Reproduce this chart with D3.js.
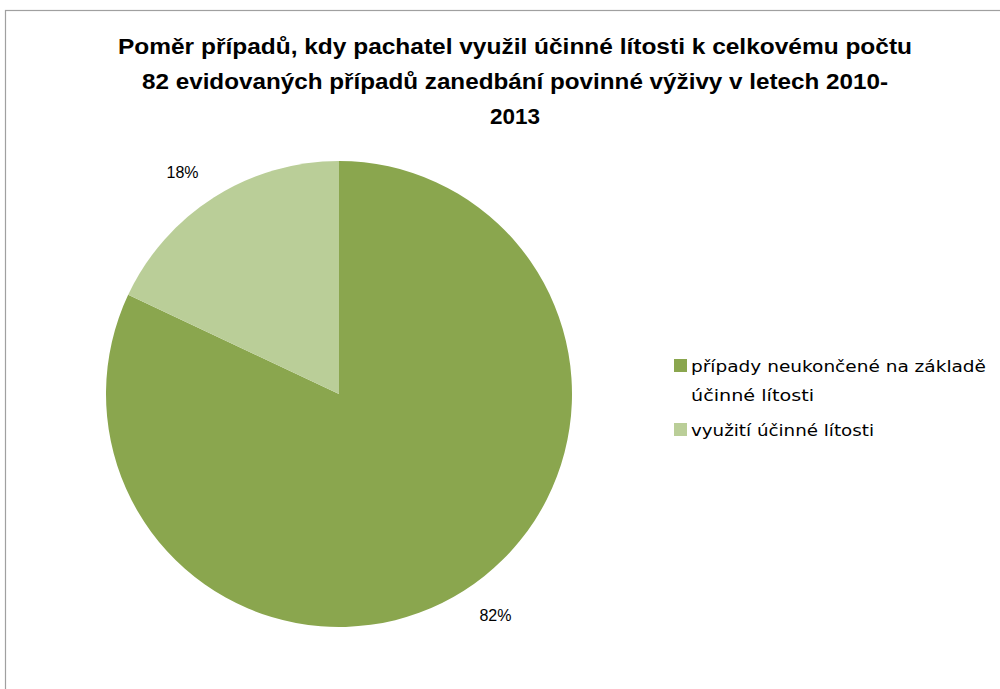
<!DOCTYPE html>
<html><head><meta charset="utf-8">
<script src="https://cdn.jsdelivr.net/npm/d3@7"></script>
<style>body{margin:0;background:#fff;}svg{display:block;}</style>
</head><body>
<svg id="c" width="1000" height="689"></svg>
<script>
const categories = ["případy neukončené na základě účinné lítosti", "využití účinné lítosti"];
const values = [82, 18];
const labels = ["82%", "18%"];
const legendLines = [["případy neukončené na základě", "účinné lítosti"], ["využití účinné lítosti"]];
const titleLines = ["Poměr případů, kdy pachatel využil účinné lítosti k celkovému počtu",
  "82 evidovaných případů zanedbání povinné výživy v letech 2010-", "2013"];
const colors = ["#8AA64E", "#BACE98"];

const svg = d3.select("#c");
svg.append("rect").attr("x", 5.5).attr("y", 10.5).attr("width", 1010).attr("height", 700)
  .attr("fill", "#fff").attr("stroke", "#a0a0a0").attr("stroke-width", 1.2);

const titleFont = "'Liberation Sans', Arial, sans-serif";
const tw = [794, 746, 50];
svg.selectAll("text.title").data(titleLines).join("text").attr("class", "title")
  .attr("x", 515).attr("y", (d, i) => 54 + i * 35)
  .attr("text-anchor", "middle").attr("font-family", titleFont).attr("font-weight", "bold")
  .attr("font-size", 22).attr("fill", "#000")
  .attr("textLength", (d, i) => tw[i]).attr("lengthAdjust", "spacingAndGlyphs")
  .text(d => d);

const cx = 339, cy = 394, r = 233;
const pie = d3.pie().sort(null).value(d => d);
const arcs = pie(values);
const arc = d3.arc().innerRadius(0).outerRadius(r);
const g = svg.append("g").attr("transform", `translate(${cx},${cy})`);
g.selectAll("path").data(arcs).join("path").attr("d", arc).attr("fill", (d, i) => colors[i]);

const labelArc = d3.arc().innerRadius(r * 1.125).outerRadius(r * 1.125);
const labelPos = arcs.map(a => labelArc.centroid(a));
g.selectAll("text.lbl").data(arcs).join("text").attr("class", "lbl")
  .attr("x", (d, i) => labelPos[i][0]).attr("y", (d, i) => labelPos[i][1])
  .attr("text-anchor", (d, i) => labelPos[i][0] >= 0 ? "start" : "end")
  .attr("dominant-baseline", "central")
  .attr("font-family", titleFont).attr("font-size", 16).attr("fill", "#000")
  .text((d, i) => labels[i]);

const leg = svg.append("g").attr("transform", "translate(674,359)");
const itemY = [0, 64];
categories.forEach((c, i) => {
  const it = leg.append("g").attr("transform", `translate(0,${itemY[i]})`);
  it.append("rect").attr("width", 13).attr("height", 13).attr("fill", colors[i]);
  legendLines[i].forEach((t, j) => {
    it.append("text").attr("x", 17).attr("y", 7 + j * 29).attr("dominant-baseline", "central")
      .attr("font-family", "'DejaVu Sans', sans-serif").attr("font-size", 16).attr("fill", "#000")
      .attr("textLength", t.length > 25 ? 295 : (t.length > 15 ? 183 : 123))
      .attr("lengthAdjust", "spacingAndGlyphs")
      .text(t);
  });
});
</script>
</body></html>
